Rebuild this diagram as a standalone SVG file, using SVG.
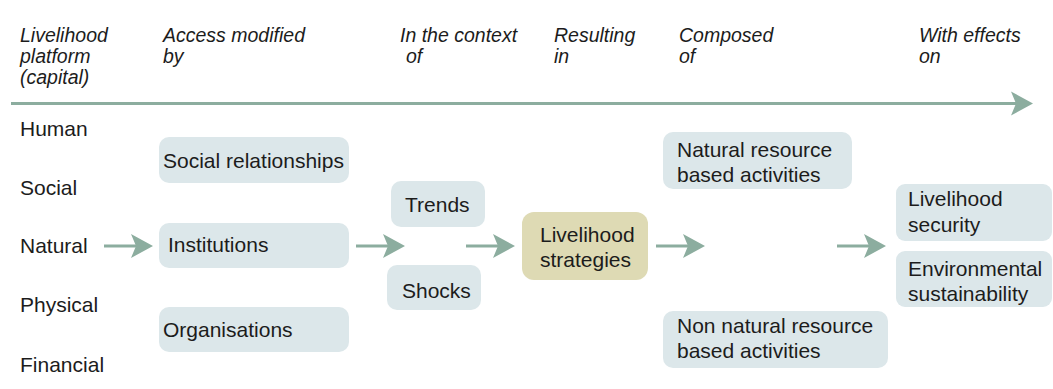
<svg xmlns="http://www.w3.org/2000/svg" width="1053" height="389" viewBox="0 0 1053 389">
  <style>
    text { font-family: "Liberation Sans", Arial, sans-serif; font-size: 21px; fill: #1c1c1c; }
    .hd { font-style: italic; font-size: 19.5px; }
    .box { fill: #dce7ea; }
    .core { fill: #dedab4; }
    .flow { stroke: #8cad9f; stroke-width: 3; fill: none; }
    .head { fill: #8cad9f; }
  </style>
  <defs>
    <!-- concave-backed arrowhead, tip at origin pointing right -->
    <path id="ah" d="M0,0 L-22,-12 L-17,0 L-22,12 Z"/>
  </defs>

  <!-- column headings -->
  <g id="headings">
    <text class="hd"><tspan x="20" y="42">Livelihood</tspan><tspan x="20" y="62.5">platform</tspan><tspan x="20" y="83.5">(capital)</tspan></text>
    <text class="hd"><tspan x="163" y="42">Access modified</tspan><tspan x="163" y="62.5">by</tspan></text>
    <text class="hd"><tspan x="400" y="42">In the context</tspan><tspan x="406" y="62.5">of</tspan></text>
    <text class="hd"><tspan x="554" y="42">Resulting</tspan><tspan x="554" y="62.5">in</tspan></text>
    <text class="hd"><tspan x="679" y="42">Composed</tspan><tspan x="679" y="62.5">of</tspan></text>
    <text class="hd"><tspan x="919" y="42">With effects</tspan><tspan x="919" y="62.5">on</tspan></text>
  </g>

  <!-- capital types -->
  <g id="capitals">
    <text x="20" y="136">Human</text>
    <text x="20" y="195">Social</text>
    <text x="20" y="253">Natural</text>
    <text x="20" y="312">Physical</text>
    <text x="20" y="372">Financial</text>
  </g>

  <g id="social-relationships">
    <rect class="box" x="159" y="137" width="190" height="46" rx="10"/>
    <text x="163" y="168">Social relationships</text>
  </g>
  <g id="institutions">
    <rect class="box" x="159" y="223" width="190" height="45" rx="10"/>
    <text x="168" y="252">Institutions</text>
  </g>
  <g id="organisations">
    <rect class="box" x="159" y="307" width="190" height="45" rx="10"/>
    <text x="163" y="337">Organisations</text>
  </g>

  <g id="trends">
    <rect class="box" x="391" y="181" width="94" height="46" rx="10"/>
    <text x="405" y="212">Trends</text>
  </g>
  <g id="shocks">
    <rect class="box" x="387" y="265" width="94" height="45" rx="10"/>
    <text x="402" y="298">Shocks</text>
  </g>

  <g id="livelihood-strategies">
    <rect class="core" x="522" y="212" width="126" height="68" rx="12"/>
    <text><tspan x="540" y="242">Livelihood</tspan><tspan x="540" y="267">strategies</tspan></text>
  </g>

  <g id="natural-resource-activities">
    <rect class="box" x="663" y="132" width="189" height="57" rx="10"/>
    <text><tspan x="677" y="157">Natural resource</tspan><tspan x="677" y="182">based activities</tspan></text>
  </g>
  <g id="non-natural-resource-activities">
    <rect class="box" x="663" y="311" width="225" height="57" rx="10"/>
    <text><tspan x="677" y="333">Non natural resource</tspan><tspan x="677" y="358">based activities</tspan></text>
  </g>

  <g id="livelihood-security">
    <rect class="box" x="896" y="184" width="156" height="57" rx="9"/>
    <text><tspan x="908" y="206">Livelihood</tspan><tspan x="908" y="232">security</tspan></text>
  </g>
  <g id="environmental-sustainability">
    <rect class="box" x="896" y="251" width="156" height="56" rx="9"/>
    <text><tspan x="908" y="276">Environmental</tspan><tspan x="908" y="301">sustainability</tspan></text>
  </g>

  <!-- connectors -->
  <g id="connectors">
    <line class="flow" x1="11" y1="103.5" x2="1018" y2="103.5"/>
    <use href="#ah" class="head" transform="translate(1033,103.5)"/>

    <line class="flow" x1="104" y1="246" x2="137" y2="246"/>
    <use href="#ah" class="head" transform="translate(153,246)"/>

    <line class="flow" x1="356" y1="246" x2="389" y2="246"/>
    <use href="#ah" class="head" transform="translate(405,246)"/>

    <line class="flow" x1="466" y1="246" x2="499" y2="246"/>
    <use href="#ah" class="head" transform="translate(515,246)"/>

    <line class="flow" x1="656" y1="246" x2="689" y2="246"/>
    <use href="#ah" class="head" transform="translate(705,246)"/>

    <line class="flow" x1="837" y1="246" x2="870" y2="246"/>
    <use href="#ah" class="head" transform="translate(886,246)"/>
  </g>
</svg>
